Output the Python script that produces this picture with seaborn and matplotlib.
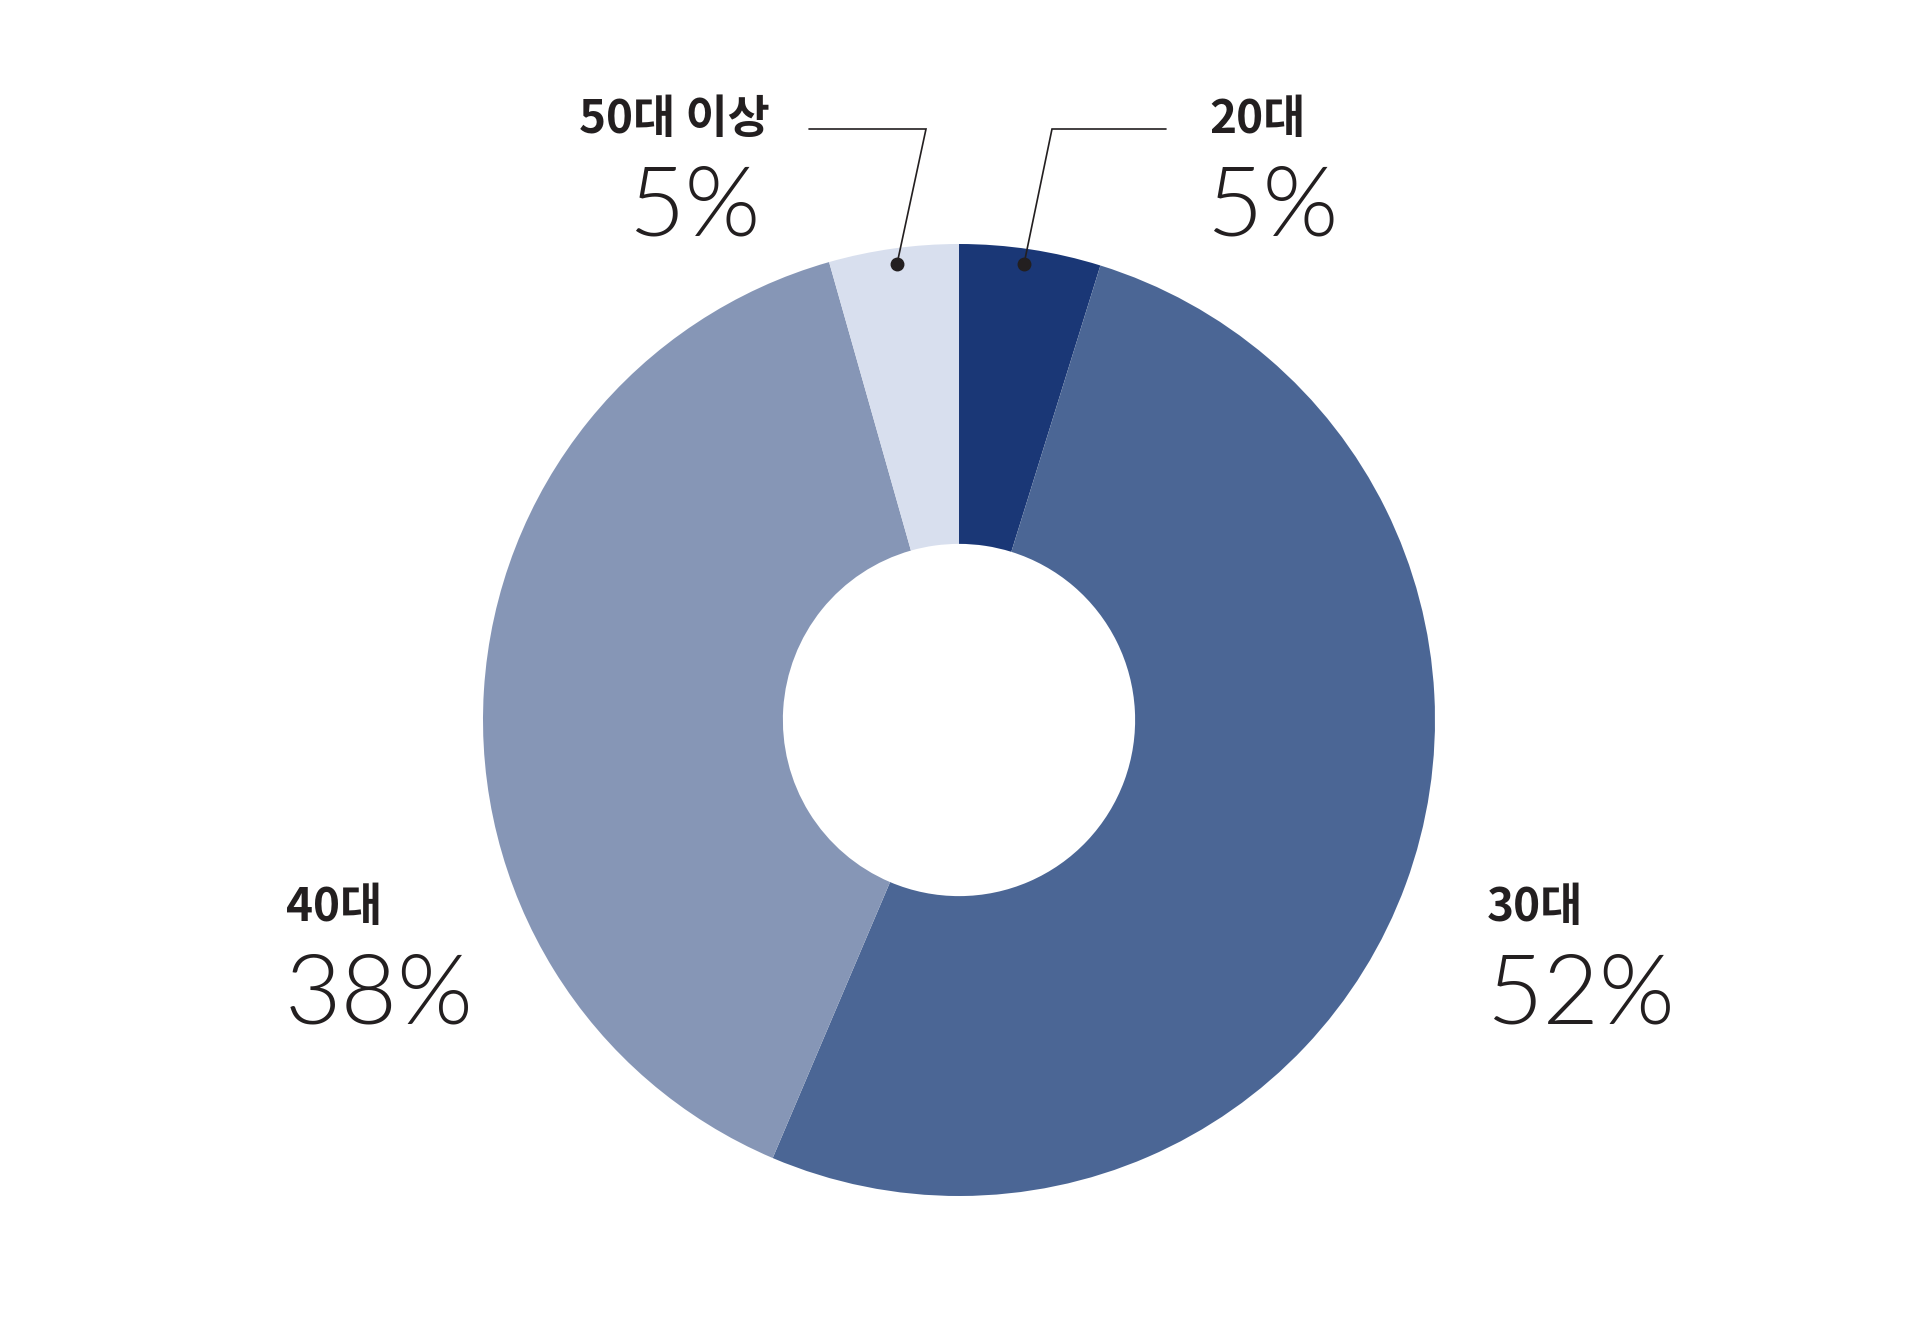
import seaborn as sns
import matplotlib.pyplot as plt

sns.set_theme(style="white")
plt.rcParams['font.family'] = ['Noto Sans CJK KR', 'DejaVu Sans']

# data (wedge sizes as drawn, labels as printed)
age_groups = ['20대', '30대', '40대', '50대 이상']
shares = [4.8, 51.6, 39.2, 4.4]
pct_labels = ['5%', '52%', '38%', '5%']
colors = ['#1a3776', '#4b6695', '#8696b6', '#d8dfee']

ink = '#231f20'

W, H = 1920, 1326
cx, cy, R = 959, 720, 476


def to_data(px, py):
    return (px - cx) / R, (cy - py) / R


fig = plt.figure(figsize=(W / 100, H / 100), dpi=100)
ax = fig.add_axes([0, 0, 1, 1])
ax.pie(shares, colors=colors, startangle=90, counterclock=False, radius=1,
       wedgeprops=dict(width=0.63, edgecolor='none', linewidth=0))
ax.set_xlim(-cx / R, (W - cx) / R)
ax.set_ylim(-(H - cy) / R, cy / R)
ax.set_aspect('equal')
ax.axis('off')

# label positions (pixel coords: left x, baseline of name, baseline of percent)
label_pos = {
    '20대': (1209, 133, 236),
    '30대': (1487, 921, 1024),
    '40대': (286, 921, 1024),
    '50대 이상': (579, 133, 236),
}
pct_x = {'20대': 1206, '30대': 1486, '40대': 285, '50대 이상': 628}

for name, lab in zip(age_groups, pct_labels):
    lx, ly, py = label_pos[name]
    x, y = to_data(lx, ly)
    ax.text(x, y, name, ha='left', va='baseline', fontsize=33,
            fontweight=600, color=ink)
    x, y = to_data(pct_x[name], py)
    ax.text(x, y, lab, ha='left', va='baseline', fontsize=70,
            family=['Lato', 'DejaVu Sans'], fontweight=300, color=ink)

# leader lines with dots
leaders = [
    [(1166, 129), (1052, 129), (1024, 264)],
    [(809, 129), (926, 129), (897, 264)],
]
for pts in leaders:
    xs, ys = zip(*[to_data(px, py) for px, py in pts])
    ax.plot(xs, ys, color=ink, lw=1.2, solid_joinstyle='miter')
    ax.plot(xs[-1], ys[-1], 'o', color=ink, markersize=9)

plt.savefig('out.png', dpi=100)
